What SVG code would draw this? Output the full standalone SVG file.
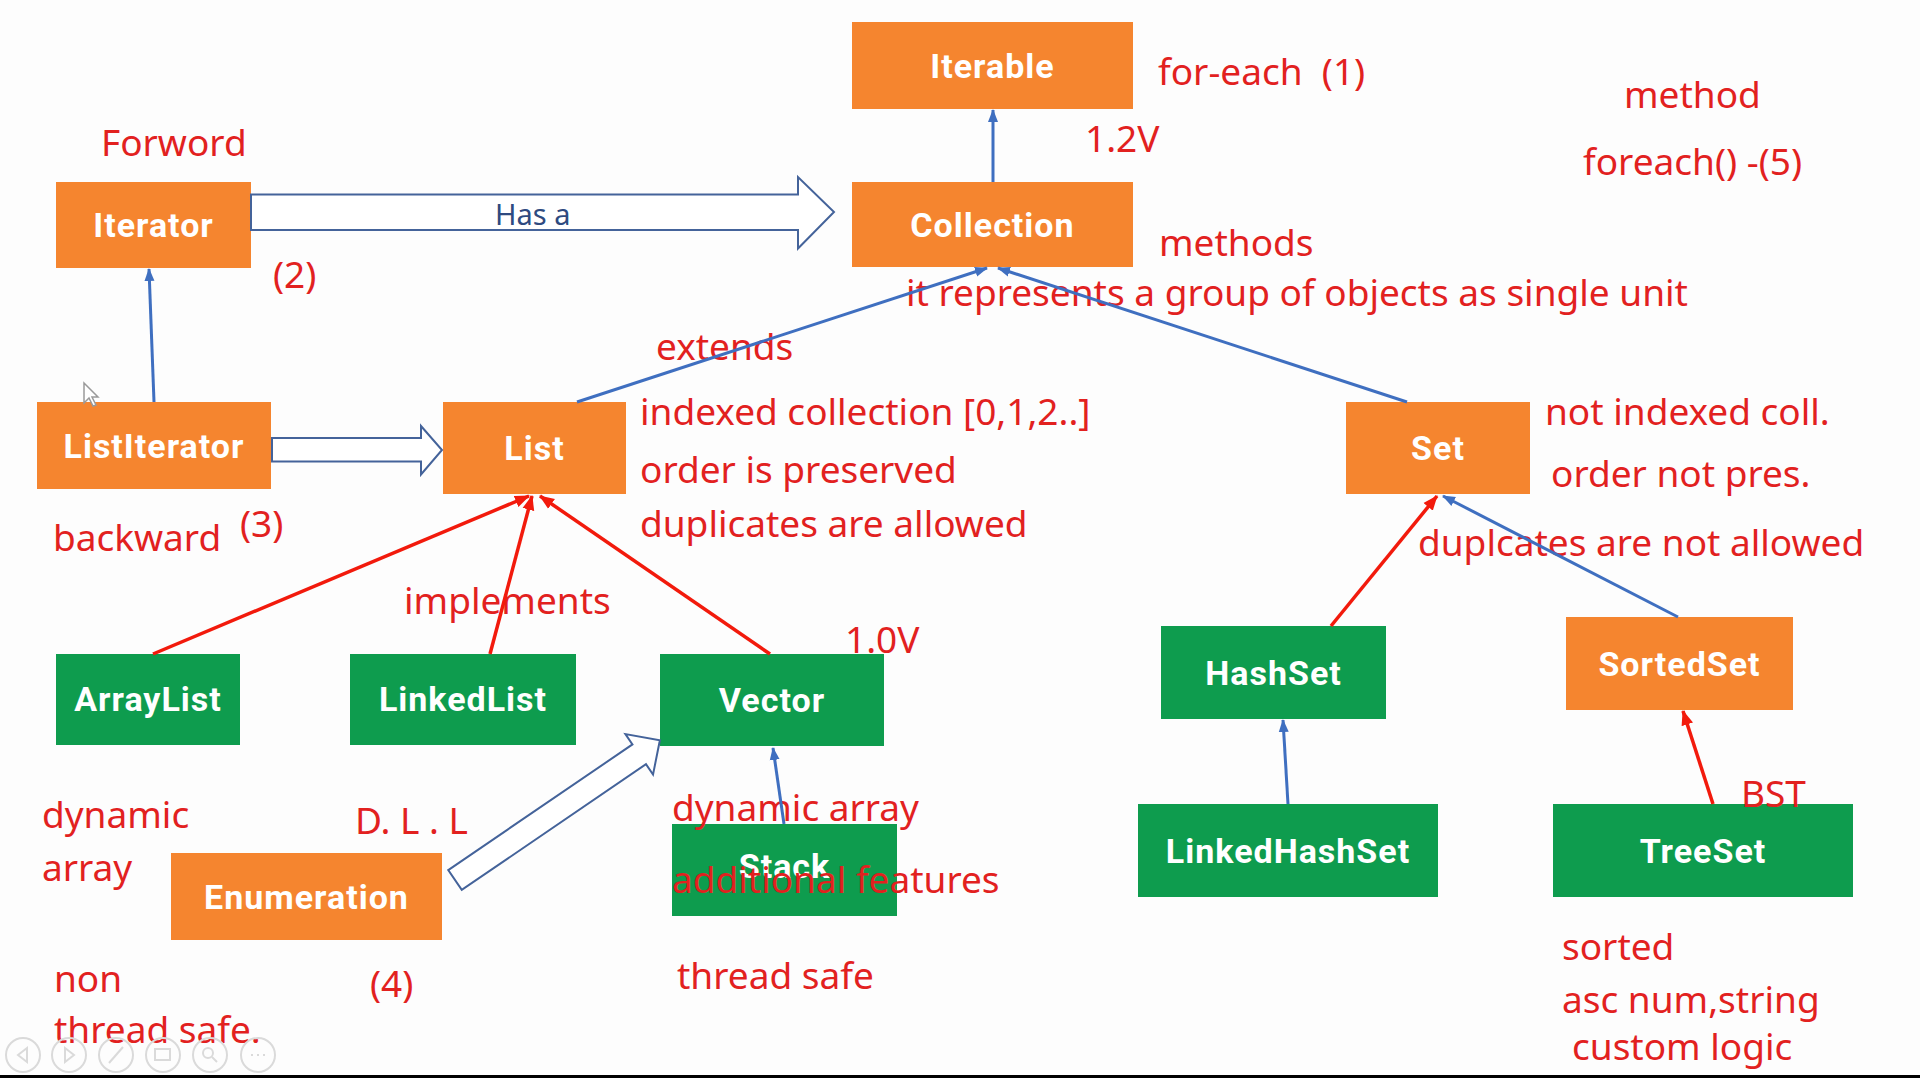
<svg xmlns="http://www.w3.org/2000/svg" width="1920" height="1080" viewBox="0 0 1920 1080">
  <style>
    .orange { fill: #F5852F; }
    .green { fill: #0E9C4E; }
    .label { font-family: Roboto, "Liberation Sans", sans-serif; font-weight: 700; font-size: 34px; letter-spacing: 1px; fill: #FFFFFF; text-anchor: middle; }
    .note { font-family: "Noto Sans", "Open Sans", sans-serif; font-size: 37px; fill: #E2211F; }
    .hasa { font-family: "Noto Sans", "Open Sans", sans-serif; font-size: 29px; fill: #2E4A80; }
    .blue { stroke: #3F6FC0; stroke-width: 3; fill: none; marker-end: url(#arrowBlue); }
    .red { stroke: #F21A0C; stroke-width: 3.5; fill: none; marker-end: url(#arrowRed); }
    .block { fill: #FFFFFF; stroke: #44639A; stroke-width: 2; stroke-linejoin: miter; }
    .ui { fill: none; stroke: #DADADA; stroke-width: 2; }
  </style>
  <defs>
    <marker id="arrowBlue" markerUnits="userSpaceOnUse" markerWidth="14" markerHeight="12" refX="12" refY="6" orient="auto">
      <path d="M0,1 L13,6 L0,11 Z" fill="#3F6FC0"/>
    </marker>
    <marker id="arrowRed" markerUnits="userSpaceOnUse" markerWidth="16" markerHeight="14" refX="14" refY="7" orient="auto">
      <path d="M0,1 L15,7 L0,13 Z" fill="#F21A0C"/>
    </marker>
  </defs>

  <rect x="0" y="0" width="1920" height="1080" fill="#FDFDFD"/>

  <!-- interface and class boxes -->
  <g id="iterable"><rect class="orange" x="852" y="22" width="281" height="87"/><text class="label" x="992.5" y="78">Iterable</text></g>
  <g id="collection"><rect class="orange" x="852" y="182" width="281" height="85"/><text class="label" x="992.5" y="237">Collection</text></g>
  <g id="iterator"><rect class="orange" x="56" y="182" width="195" height="86"/><text class="label" x="153.5" y="237">Iterator</text></g>
  <g id="listiterator"><rect class="orange" x="37" y="402" width="234" height="87"/><text class="label" x="154" y="458">ListIterator</text></g>
  <g id="list"><rect class="orange" x="443" y="402" width="183" height="92"/><text class="label" x="534.5" y="460">List</text></g>
  <g id="set"><rect class="orange" x="1346" y="402" width="184" height="92"/><text class="label" x="1438" y="460">Set</text></g>
  <g id="arraylist"><rect class="green" x="56" y="654" width="184" height="91"/><text class="label" x="148" y="711">ArrayList</text></g>
  <g id="linkedlist"><rect class="green" x="350" y="654" width="226" height="91"/><text class="label" x="463" y="711">LinkedList</text></g>
  <g id="vector"><rect class="green" x="660" y="654" width="224" height="92"/><text class="label" x="772" y="712">Vector</text></g>
  <g id="enumeration"><rect class="orange" x="171" y="853" width="271" height="87"/><text class="label" x="306.5" y="909">Enumeration</text></g>
  <g id="stack"><rect class="green" x="672" y="824" width="225" height="92"/><text class="label" x="784.5" y="878">Stack</text></g>
  <g id="hashset"><rect class="green" x="1161" y="626" width="225" height="93"/><text class="label" x="1273.5" y="685">HashSet</text></g>
  <g id="sortedset"><rect class="orange" x="1566" y="617" width="227" height="93"/><text class="label" x="1679.5" y="676">SortedSet</text></g>
  <g id="linkedhashset"><rect class="green" x="1138" y="804" width="300" height="93"/><text class="label" x="1288" y="863">LinkedHashSet</text></g>
  <g id="treeset"><rect class="green" x="1553" y="804" width="300" height="93"/><text class="label" x="1703" y="863">TreeSet</text></g>

  <!-- notes -->
  <g id="notes">
    <text class="note" x="1158" y="85" xml:space="preserve">for-each  (1)</text>
    <text class="note" x="1085" y="152">1.2V</text>
    <text class="note" x="1624" y="108">method</text>
    <text class="note" x="1583" y="175">foreach() -(5)</text>
    <text class="note" x="1159" y="256">methods</text>
    <text class="note" x="906" y="306">it represents a group of objects as single unit</text>
    <text class="note" x="101" y="156">Forword</text>
    <text class="note" x="273" y="288">(2)</text>
    <text class="note" x="656" y="360">extends</text>
    <text class="note" x="640" y="425">indexed collection [0,1,2..]</text>
    <text class="note" x="640" y="483">order is preserved</text>
    <text class="note" x="640" y="537">duplicates are allowed</text>
    <text class="note" x="53" y="551">backward</text>
    <text class="note" x="240" y="537">(3)</text>
    <text class="note" x="1545" y="425">not indexed coll.</text>
    <text class="note" x="1551" y="487">order not pres.</text>
    <text class="note" x="1418" y="556">duplcates are not allowed</text>
    <text class="note" x="404" y="614">implements</text>
    <text class="note" x="845" y="653">1.0V</text>
    <text class="note" x="42" y="828">dynamic</text>
    <text class="note" x="42" y="881">array</text>
    <text class="note" x="355" y="834">D. L . L</text>
    <text class="note" x="672" y="821">dynamic array</text>
    <text class="note" x="672" y="893">additional features</text>
    <text class="note" x="677" y="989">thread safe</text>
    <text class="note" x="54" y="992">non</text>
    <text class="note" x="54" y="1043">thread safe.</text>
    <text class="note" x="370" y="997">(4)</text>
    <text class="note" x="1741" y="807">BST</text>
    <text class="note" x="1562" y="960">sorted</text>
    <text class="note" x="1562" y="1013">asc num,string</text>
    <text class="note" x="1572" y="1060">custom logic</text>
  </g>

  <!-- connectors -->
  <g id="connectors">
    <line class="blue" x1="993" y1="182" x2="993" y2="110"/>
    <line class="blue" x1="154" y1="402" x2="149" y2="269"/>
    <line class="blue" x1="577" y1="402" x2="987" y2="268"/>
    <line class="blue" x1="1407" y1="402" x2="998" y2="268"/>
    <line class="blue" x1="784" y1="824" x2="773" y2="748"/>
    <line class="blue" x1="1678" y1="617" x2="1443" y2="496"/>
    <line class="blue" x1="1288" y1="804" x2="1283" y2="720"/>
    <line class="red" x1="153" y1="654" x2="529" y2="496"/>
    <line class="red" x1="490" y1="654" x2="532" y2="496"/>
    <line class="red" x1="770" y1="654" x2="540" y2="496"/>
    <line class="red" x1="1331" y1="626" x2="1437" y2="496"/>
    <line class="red" x1="1713" y1="804" x2="1683" y2="711"/>
    <!-- hollow block arrows -->
    <polygon class="block" points="251,194.5 798,194.5 798,177 834,212 798,248.5 798,230 251,230"/>
    <text class="hasa" x="495" y="225">Has a</text>
    <polygon class="block" points="272,438 421,438 421,426 442,450 421,474.5 421,461.5 272,461.5"/>
    <g transform="translate(455,880) rotate(-34.3)">
      <polygon class="block" points="0,-12 223,-12 223,-24.5 248,0 223,24.5 223,12 0,12"/>
    </g>
  </g>

  <!-- pointer and slideshow controls -->
  <path d="M84,383 L84,403 L89,398 L93,406 L96,405 L92,397 L98,397 Z" fill="#FFFFFF" stroke="#9A9A9A" stroke-width="1.5"/>
  <g id="controls">
    <circle class="ui" cx="23" cy="1055" r="17"/>
    <path class="ui" d="M27,1048 L18,1055 L27,1062 Z"/>
    <circle class="ui" cx="69" cy="1055" r="17"/>
    <path class="ui" d="M65,1048 L74,1055 L65,1062 Z"/>
    <circle class="ui" cx="116" cy="1055" r="17"/>
    <path class="ui" d="M109,1063 L123,1047"/>
    <circle class="ui" cx="163" cy="1055" r="17"/>
    <rect class="ui" x="155" y="1049" width="15" height="11"/>
    <circle class="ui" cx="210" cy="1055" r="17"/>
    <circle class="ui" cx="208" cy="1053" r="5"/>
    <path class="ui" d="M212,1057 L217,1062"/>
    <circle class="ui" cx="258" cy="1055" r="17"/>
    <path class="ui" d="M251,1055 h2 M257,1055 h2 M263,1055 h2"/>
  </g>
  <rect x="0" y="1075" width="1920" height="3" fill="#000000"/>
</svg>
